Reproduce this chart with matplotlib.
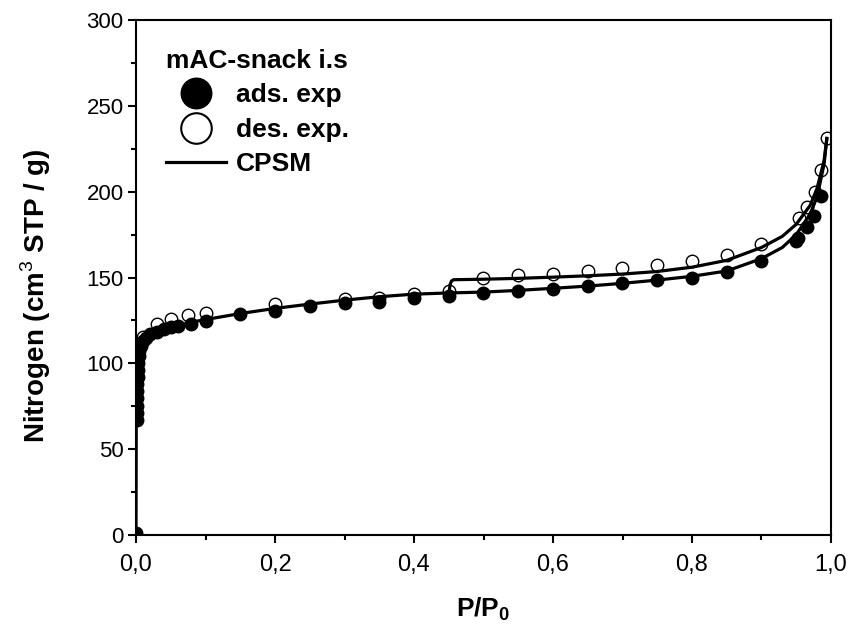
import matplotlib
matplotlib.use("Agg")
import matplotlib.pyplot as plt
from matplotlib.lines import Line2D
from matplotlib.ticker import MultipleLocator, FuncFormatter

# experimental adsorption branch (filled circles)
ads_x = [0.0, 0.001, 0.001, 0.001, 0.0015, 0.002, 0.002, 0.0025, 0.003, 0.003, 0.004,
         0.005, 0.007, 0.01, 0.015, 0.02, 0.03, 0.04, 0.05, 0.06, 0.079, 0.1,
         0.15, 0.2, 0.25, 0.3, 0.35, 0.4, 0.45, 0.5, 0.55, 0.6, 0.65, 0.7,
         0.75, 0.8, 0.85, 0.9, 0.95, 0.953, 0.966, 0.976, 0.985]
ads_y = [1, 67, 71, 75, 80, 84, 88, 92, 96, 100, 104,
         107, 110, 113, 115, 117, 118.5, 120, 121, 122, 123, 124.6,
         128.9, 130.5, 133.3, 135.3, 135.9, 137.8, 139.5, 140.9, 142, 143.2, 145, 146.7,
         148.4, 150, 153.3, 159.6, 171.5, 173.1, 179.2, 185.6, 197.7]

# experimental desorption branch (open circles)
des_x = [0.994, 0.985, 0.977, 0.965, 0.954, 0.9, 0.85, 0.8, 0.75, 0.7, 0.65,
         0.6, 0.55, 0.5, 0.45, 0.4, 0.35, 0.3, 0.2, 0.1, 0.075, 0.05, 0.03, 0.01]
des_y = [231.2, 212.8, 199.6, 190.9, 184.7, 169.6, 163, 159.5, 157.1, 155.4, 153.7,
         152.1, 151.3, 149.6, 142, 140.3, 137.8, 137.3, 134.5, 129.5, 128, 126, 122.7, 115.3]

# CPSM model, adsorption branch
cpsm_ads_x = [0.0, 0.0003, 0.0006, 0.001, 0.002, 0.003, 0.005, 0.0075, 0.01, 0.02, 0.04,
              0.06, 0.08, 0.1, 0.15, 0.2, 0.25, 0.3, 0.35, 0.4, 0.45, 0.5, 0.55,
              0.6, 0.65, 0.7, 0.75, 0.8, 0.85, 0.9, 0.93, 0.95, 0.97, 0.98, 0.99, 0.994]
cpsm_ads_y = [0, 60, 85, 98, 104, 107, 110, 112, 113.5, 117, 120,
              122, 124, 125.5, 129, 132, 134.5, 136.8, 138.8, 140.3, 141, 141.5, 142.5,
              143.7, 145, 146.6, 148.5, 150.7, 153.8, 161, 167.5, 175, 187, 197, 216, 231]

# CPSM model, desorption branch (joins adsorption below P/P0 = 0.45)
cpsm_des_x = [0.45, 0.451, 0.452, 0.454, 0.457, 0.5, 0.55, 0.6, 0.65, 0.7, 0.75,
              0.8, 0.85, 0.9, 0.93, 0.95, 0.97, 0.98, 0.99, 0.994]
cpsm_des_y = [141, 143, 146, 148, 148.7, 149, 149.5, 150.2, 151, 152, 153.5,
              156, 160, 167.5, 174, 181, 192, 202, 218, 231]

plt.rcParams["font.family"] = ["Liberation Sans", "DejaVu Sans"]
plt.rcParams["mathtext.fontset"] = "custom"
plt.rcParams["mathtext.rm"] = "Liberation Sans"
plt.rcParams["mathtext.bf"] = "Liberation Sans:bold"

fig = plt.figure(figsize=(8.52, 6.29), dpi=100)
ax = fig.add_axes([136 / 852, 1 - 535 / 629, (831 - 136) / 852, (535 - 20) / 629])

ax.plot(cpsm_ads_x, cpsm_ads_y, color="black", lw=2.3, zorder=2)
ax.plot(cpsm_des_x, cpsm_des_y, color="black", lw=2.3, zorder=2)
ax.plot(ads_x, ads_y, "o", ms=9, color="black", zorder=3)
ax.plot(des_x, des_y, "o", ms=9, mfc="none", mec="black", mew=1.0, zorder=4)

ax.set_xlim(0, 1.0)
ax.set_ylim(0, 300)
ax.xaxis.set_major_locator(MultipleLocator(0.2))
ax.xaxis.set_minor_locator(MultipleLocator(0.1))
ax.yaxis.set_major_locator(MultipleLocator(50))
ax.yaxis.set_minor_locator(MultipleLocator(25))
ax.xaxis.set_major_formatter(FuncFormatter(lambda v, p: f"{v:.1f}".replace(".", ",")))
ax.tick_params(which="both", direction="out", width=1.5, top=False, right=False)
ax.tick_params(which="major", length=6)
ax.tick_params(which="minor", length=3.5)
ax.tick_params(axis="x", labelsize=17, pad=8)
ax.tick_params(axis="y", labelsize=16, pad=3)
for s in ax.spines.values():
    s.set_linewidth(1.5)

ax.set_xlabel(r"$\mathbf{P/P}_{\mathbf{0}}$", fontsize=19)
ax.xaxis.set_label_coords(0.5, -0.118)
ax.set_ylabel(r"Nitrogen (cm$^{3}$ STP / g)", fontsize=20, fontweight="bold")
ax.yaxis.set_label_coords(-0.12, 0.465)

handles = [
    Line2D([], [], marker="o", ls="none", ms=22, color="black"),
    Line2D([], [], marker="o", ls="none", ms=22, mfc="none", mec="black", mew=1.5),
    Line2D([], [], color="black", lw=2.3),
]
leg = ax.legend(handles, ["ads. exp", "des. exp.", "CPSM"], title="mAC-snack i.s",
                loc="upper left", bbox_to_anchor=(0.016, 0.98), frameon=False,
                prop={"weight": "bold", "size": 19}, handlelength=2.3, handletextpad=0.35,
                labelspacing=0.4, borderpad=0.2, alignment="left")
leg.get_title().set_fontweight("bold")
leg.get_title().set_fontsize(19)

fig.savefig("out.png", dpi=100)
